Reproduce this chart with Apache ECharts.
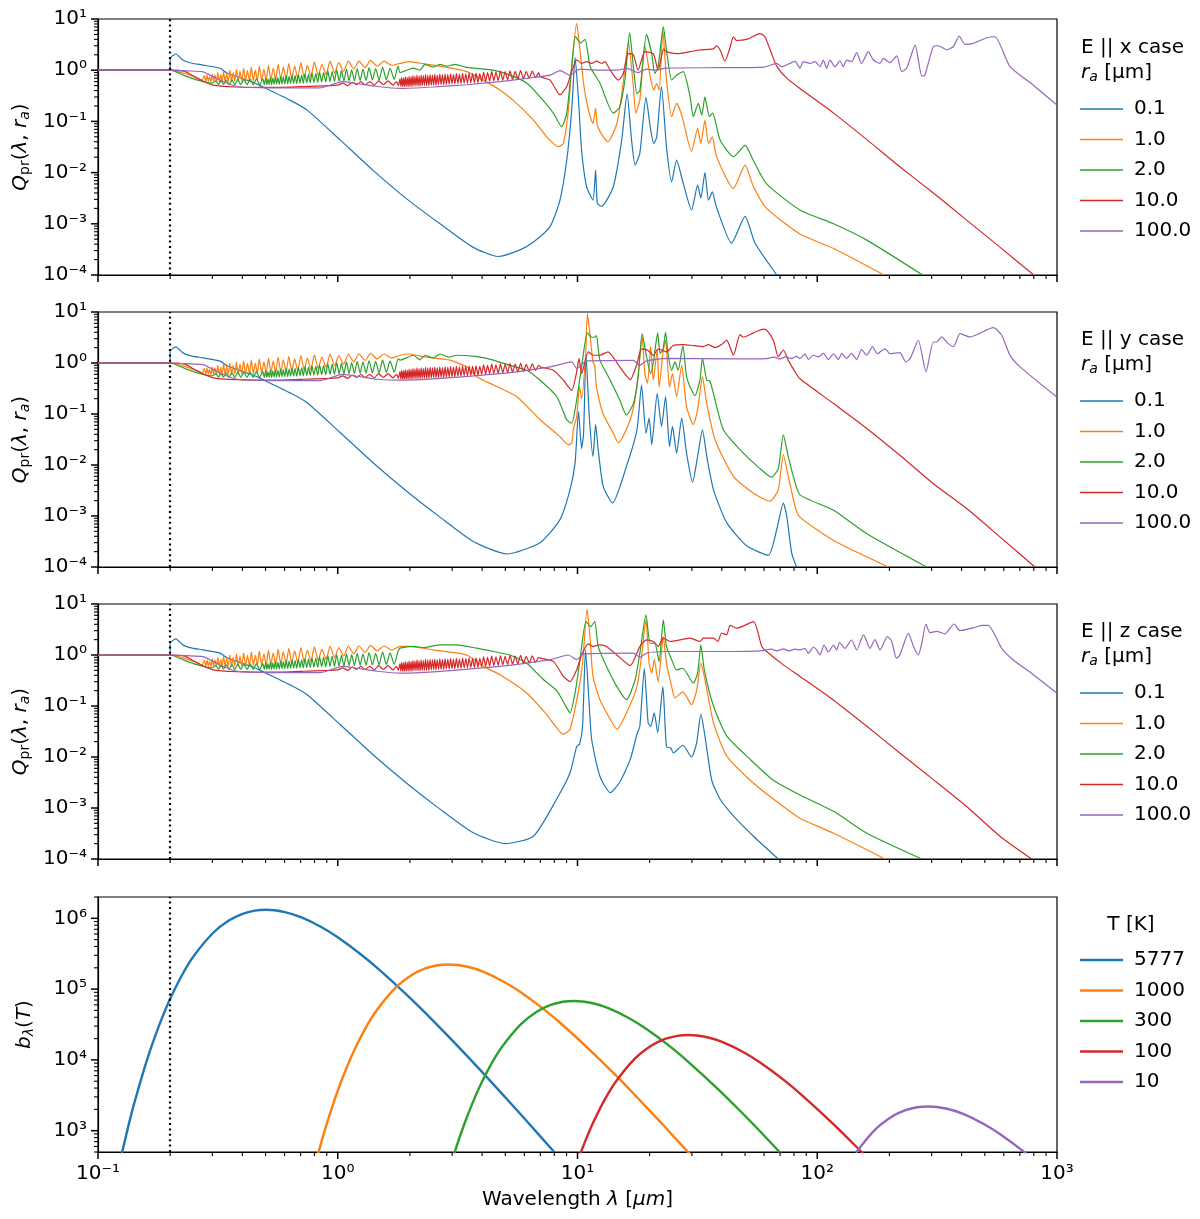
<!DOCTYPE html>
<html><head><meta charset="utf-8">
<script src="https://cdn.jsdelivr.net/npm/echarts@6/dist/echarts.min.js"></script>
<style>html,body{margin:0;padding:0;background:#fff}#c{width:1200px;height:1219px}</style>
</head><body><div id="c"></div>
<script>
const colors = ['#1f77b4','#ff7f0e','#2ca02c','#d62728','#9467bd'];
const sizeNames = ['0.1','1.0','2.0','10.0','100.0'];
const tempNames = ['5777','1000','300','100','10'];
const caseTitles = ['E || x case','E || y case','E || z case'];
const xTickLabels = ['10⁻¹','10⁰','10¹','10²','10³'];      // exponents -1..3
const qTickLabels = ['10⁻⁴','10⁻³','10⁻²','10⁻¹','10⁰','10¹']; // exponents -4..1
const bTickLabels = ['10³','10⁴','10⁵','10⁶'];             // exponents 3..6

// ---- short-wavelength part (shared by the three Qpr panels) ----
const shortBlue = [[0.1,1],[0.2,1],[0.2,1.7],[0.211,2.07],[0.226,1.58],[0.242,1.4],[0.274,1.26],[0.323,1.09],[0.345,0.88],[0.38,0.75],[0.443,0.58],[0.474,0.5],[0.632,0.26],[0.745,0.166],[1.02,0.044],[1.4,0.0112]];
const shortOrange = [[0.1,1],[0.2,1],[0.226,0.88],[0.259,0.71],[0.272,0.64],
[0.278,0.78],[0.2815,0.6],[0.285,0.8],[0.2885,0.6],[0.292,0.76],[0.296,0.59],[0.2995,0.84],[0.3035,0.6],[0.3075,0.8],[0.312,0.59],[0.316,0.9],[0.3205,0.6],[0.325,0.82],[0.3295,0.59],[0.334,0.95],[0.339,0.6],[0.344,0.85],[0.3495,0.6],[0.355,1.0],[0.3605,0.6],[0.366,0.9],[0.372,0.61],[0.378,1.05],[0.3845,0.6],[0.391,0.95],[0.398,0.61],[0.405,1.1],[0.4125,0.61],[0.42,0.98],[0.428,0.62],[0.436,1.15],[0.4445,0.62],[0.453,1.0],[0.462,0.62],[0.471,1.2],[0.4815,0.63],[0.492,1.05],[0.503,0.63],[0.514,1.25],[0.526,0.64],[0.538,1.1],[0.551,0.65],[0.564,1.3],[0.5785,0.66],[0.593,1.15],[0.609,0.67],[0.625,1.35],[0.643,0.68],[0.661,1.2],[0.681,0.7],[0.702,1.4],[0.7245,0.72],[0.747,1.25],[0.773,0.75],[0.799,1.45],[0.829,0.78],[0.859,1.3],[0.894,0.82],[0.929,1.5],[0.97,0.88],[1.01,1.4],[1.058,0.95],[1.107,1.5],[1.166,1.05],[1.225,1.5],[1.3,1.12],[1.37,1.55],[1.46,1.2],[1.56,1.5],[1.68,1.25]];
const shortGreen = [[0.1,1],[0.2,1],[0.235,0.75],[0.274,0.6],[0.3,0.56],[0.31,0.62],[0.318,0.53],[0.326,0.63],[0.334,0.53],[0.343,0.64],[0.352,0.52],[0.362,0.65],[0.372,0.52],[0.383,0.66],[0.394,0.52],[0.406,0.66],[0.418,0.52],[0.431,0.67],[0.444,0.52],[0.458,0.68],[0.472,0.52],[0.487,0.68],[0.494,0.52],
[0.5,0.7],[0.5057,0.52],[0.5115,0.68],[0.5175,0.52],[0.5236,0.72],[0.53,0.52],[0.536,0.7],[0.5425,0.53],[0.549,0.74],[0.556,0.53],[0.563,0.72],[0.5705,0.53],[0.578,0.76],[0.5855,0.54],[0.593,0.74],[0.6015,0.54],[0.61,0.78],[0.6185,0.54],[0.627,0.76],[0.636,0.55],[0.645,0.8],[0.6545,0.55],[0.664,0.78],[0.6745,0.55],[0.685,0.82],[0.696,0.56],[0.707,0.8],[0.7185,0.56],[0.73,0.85],[0.7425,0.57],[0.755,0.83],[0.768,0.57],[0.781,0.88],[0.7955,0.58],[0.81,0.86],[0.825,0.58],[0.84,0.92],[0.8565,0.59],[0.873,0.9],[0.891,0.59],[0.909,0.97],[0.9285,0.6],[0.948,0.94],[0.969,0.6],[0.99,1.02],[1.013,0.61],[1.036,0.98],[1.061,0.61],[1.087,1.05],[1.115,0.62],[1.143,1.02],[1.174,0.62],[1.205,1.08],[1.24,0.63],[1.274,1.05],[1.312,0.63],[1.351,1.12],[1.395,0.64],[1.439,1.08],[1.488,0.64],[1.538,1.15],[1.595,0.65],[1.653,1.1],[1.72,0.66],[1.786,1.2]];
const shortRed = [[0.1,1],[0.2,1],[0.23,0.95],[0.259,0.7],[0.302,0.51],[0.38,0.47],[0.52,0.46],[0.72,0.48],[1.0,0.51],[1.05,0.56],[1.1,0.5],[1.15,0.58],[1.2,0.52],[1.25,0.6],[1.3,0.52],[1.36,0.6],[1.42,0.51],[1.48,0.62],[1.55,0.52],[1.62,0.62],[1.7,0.51],[1.76,0.6],[1.79,0.5]];
const midRed = [[1.818,0.68],[1.833,0.48],[1.849,0.72],[1.865,0.48],[1.881,0.7],[1.897,0.48],[1.914,0.74],[1.931,0.48],[1.949,0.72],[1.966,0.48],[1.984,0.76],[2.002,0.48],[2.021,0.74],[2.04,0.48],[2.059,0.78],[2.079,0.49],[2.099,0.76],[2.12,0.49],[2.14,0.8],[2.161,0.49],[2.183,0.77],[2.205,0.49],[2.228,0.8],[2.251,0.5],[2.275,0.78],[2.299,0.5],[2.323,0.82],[2.348,0.5],[2.374,0.79],[2.4,0.5],[2.427,0.82],[2.455,0.51],[2.483,0.8],[2.512,0.51],[2.541,0.83],[2.571,0.51],[2.601,0.8],[2.633,0.52],[2.665,0.84],[2.698,0.52],[2.732,0.81],[2.767,0.52],[2.803,0.84],[2.84,0.53],[2.877,0.82],[2.916,0.53],[2.955,0.85],[2.996,0.54],[3.038,0.82],[3.081,0.54],[3.125,0.86],[3.171,0.55],[3.217,0.83],[3.266,0.55],[3.316,0.87],[3.368,0.56],[3.42,0.85],[3.475,0.56],[3.531,0.87],[3.59,0.57],[3.65,0.86],[3.713,0.57],[3.776,0.88],[3.844,0.58],[3.912,0.86],[3.985,0.6],[4.058,0.92],[4.137,0.6],[4.216,0.9],[4.301,0.61],[4.386,0.95],[4.478,0.62],[4.57,0.92],[4.67,0.63],[4.771,0.96],[4.88,0.64],[4.99,0.94],[5.11,0.65],[5.23,0.97],[5.36,0.66],[5.495,0.95],[5.64,0.67],[5.787,0.98],[5.95,0.68],[6.112,0.94],[6.29,0.7],[6.477,0.96],[6.68,0.72],[6.887,0.9]];
const shortPurple = [[0.1,1],[0.2,1],[0.235,0.97],[0.274,0.93],[0.302,0.75],[0.332,0.6],[0.38,0.48],[0.52,0.45],[0.84,0.45],[1.05,0.6],[1.2,0.55],[1.46,0.48]];

// ---- E || x ----
const xBlue = [[1.95,3.0e-3],[2.67,1.0e-3],[3.66,3.5e-4],[4.66,2.3e-4],[5.76,3.1e-4],[6.55,4.4e-4],[7.68,8.8e-4],[8.45,2.9e-3],[9.02,0.0176],[9.46,0.167],[9.77,1.78],[10.1,0.26],[10.4,0.0276],[10.9,5.4e-3],[11.6,2.9e-3],[11.9,0.0112],[12.1,2.5e-3],[12.6,2.2e-3],[14.1,5.3e-3],[15.3,0.044],[16.1,0.35],[16.8,0.044],[17.4,0.014],[18.2,0.024],[19.3,0.295],[20.1,0.079],[20.8,0.037],[21.4,0.05],[22.4,0.48],[23.5,0.032],[24.7,6.6e-3],[25.9,0.0176],[27.5,6.6e-3],[29.9,1.85e-3],[31.7,5.7e-3],[32.7,3.2e-3],[34.0,0.01],[35.2,2.9e-3],[36.5,4.2e-3],[38.0,2.1e-3],[43.9,4.2e-4],[50,1.4e-3],[55,4.2e-4],[67.8,1e-4]];
const xOrange = [[1.82,1.36],[2.0,1.47],[2.13,1.4],[2.5,1.26],[3.45,0.94],[4.04,0.64],[4.75,0.41],[5.57,0.225],[6.55,0.106],[7.44,0.05],[8.32,0.032],[8.73,0.037],[9.16,0.167],[9.46,1.17],[9.92,8.2],[10.2,2.9],[10.6,0.55],[11.1,0.167],[11.6,0.091],[11.9,0.18],[12.1,0.085],[12.8,0.05],[13.4,0.04],[14.6,0.091],[15.5,0.55],[16.3,3.6],[17.1,0.48],[17.5,0.145],[18.2,0.26],[19.1,3.0],[20.1,0.75],[20.8,0.41],[21.4,0.55],[21.9,0.41],[22.7,6.0],[23.5,0.64],[24.7,0.124],[25.9,0.225],[27.2,0.133],[29.9,0.026],[31.7,0.073],[32.7,0.037],[34.0,0.106],[35.2,0.037],[36.5,0.05],[38.0,0.0205],[44.7,4.9e-3],[50,0.014],[54.2,5.3e-3],[61.5,2e-3],[84.7,6.3e-4],[117,3.3e-4],[190,1e-4]];
const xGreen = [[1.82,0.9],[2.07,1.1],[2.2,1.0],[2.31,1.3],[2.5,1.15],[2.67,1.3],[2.85,1.2],[3.08,1.3],[3.4,1.15],[3.68,1.1],[4.46,1.0],[5.23,0.8],[6.14,0.56],[6.98,0.3],[7.93,0.145],[8.59,0.079],[9.02,0.145],[9.46,1.17],[9.8,4.6],[10.3,3.4],[10.75,4.0],[11.3,1.17],[12.4,0.56],[14.1,0.145],[15.0,0.19],[15.8,0.7],[16.5,5.4],[17.1,1.17],[17.7,0.35],[18.2,0.4],[19.4,5.0],[20.4,2.1],[21.0,0.86],[21.7,1.17],[22.8,7.1],[23.5,2.5],[24.7,0.64],[25.9,0.8],[27.6,0.94],[29.5,0.3],[30.4,0.124],[31.9,0.225],[33.0,0.133],[34.0,0.3],[35.5,0.124],[36.6,0.145],[39.3,0.044],[44.7,0.0205],[50,0.034],[54.2,0.017],[61.5,6e-3],[84.7,1.86e-3],[117,1.0e-3],[161,4.8e-4],[275,1e-4]];
const xRed = [[6.98,0.75],[7.68,0.64],[8.45,0.33],[9.02,0.48],[9.46,0.94],[9.92,1.58],[10.4,1.36],[10.9,1.47],[11.46,1.36],[12.0,1.5],[12.6,1.36],[13.0,1.47],[13.7,1.0],[14.8,0.64],[15.5,0.84],[16.3,2.1],[17.1,2.0],[17.9,1.0],[19.1,2.3],[20.7,2.1],[21.7,1.0],[22.9,2.6],[23.5,2.3],[25.9,2.1],[29.5,2.3],[32.4,2.5],[36.9,2.6],[38.0,3.0],[39.3,2.5],[41.2,1.5],[43.3,2.8],[44.7,4.5],[46.1,3.8],[50.8,4.0],[57.7,5.2],[60.5,4.5],[64.5,2.1],[67.8,1.19],[74.6,0.7],[84.7,0.44],[117,0.145],[161,0.044],[221,0.013],[305,4e-3],[420,1.18e-3],[578,3.5e-4],[800,1e-4]];
const xPurple = [[1.82,0.44],[2.5,0.47],[3.45,0.52],[4.75,0.6],[6.55,0.72],[7.68,0.8],[8.45,0.98],[9.31,0.8],[10.2,1.05],[12.4,1.0],[14.6,1.0],[16.1,1.09],[17.9,0.9],[19.4,1.05],[21.0,1.0],[23.5,1.1],[40,1.12],[60,1.15],[67.8,1.36],[71,1.17],[77,1.36],[80.8,1.5],[84.7,1.09],[87.5,1.47],[93.3,1.36],[97.9,1.47],[102.7,1.17],[106,1.58],[109.4,1.09],[113,1.58],[118.6,1.17],[124.4,1.53],[128.5,1.17],[132.6,1.58],[139.2,1.47],[146,2.2],[153,1.36],[163.3,2.3],[171.4,1.58],[182.7,1.36],[188.6,1.7],[201,1.4],[214.4,1.9],[225,0.94],[236,1.09],[256,3.1],[273,0.77],[281,0.8],[305,2.9],[320,3.0],[347,2.5],[370,2.9],[391,4.65],[413,3.2],[448,3.35],[509,4.3],[551,4.5],[637,1.17],[797,0.51],[998,0.21]];

// ---- E || y ----
const yBlue = [[1.95,3.0e-3],[2.67,9.5e-4],[3.66,3.2e-4],[5.07,1.8e-4],[6.98,3.0e-4],[8.45,8.5e-4],[9.31,3.3e-3],[9.77,0.011],[10.1,0.111],[10.4,0.021],[10.6,0.042],[10.85,1.42],[11.2,0.089],[11.6,0.0148],[11.9,0.062],[12.2,0.02],[12.8,3.8e-3],[14.0,1.8e-3],[16.0,9.4e-3],[17.7,0.049],[18.5,0.37],[19.3,0.042],[19.9,0.083],[20.4,0.025],[21.5,0.254],[22.4,0.057],[23.3,0.22],[24.2,0.023],[24.9,0.057],[25.9,0.017],[27.2,0.083],[28.5,0.017],[30.2,4.6e-3],[31.7,0.0148],[33.2,0.049],[34.6,0.0148],[36.9,3.3e-3],[41.9,7.4e-4],[50.8,2.6e-4],[62.5,1.7e-4],[67.8,5.5e-4],[72.2,1.8e-3],[74.6,1e-3],[78.2,1.9e-4],[82,1e-4]];
const yOrange = [[1.82,1.42],[2.0,1.5],[2.27,1.33],[2.94,1.14],[3.45,0.84],[3.8,0.54],[4.46,0.37],[5.57,0.22],[6.98,0.077],[8.45,0.036],[9.16,0.025],[9.46,0.027],[9.6,0.049],[9.92,0.089],[10.2,0.34],[10.4,0.2],[10.8,1.33],[11.0,9.3],[11.3,3.25],[11.6,1.05],[11.8,0.9],[12.0,0.34],[12.8,0.1],[14.1,0.042],[14.8,0.027],[16.6,0.077],[17.7,0.34],[18.6,3.25],[19.1,0.62],[19.6,0.4],[20.2,2.1],[20.7,0.46],[21.5,1.8],[21.9,0.34],[22.8,1.8],[23.3,2.8],[24.2,0.34],[24.9,0.62],[25.9,0.22],[27.2,0.9],[28.5,0.14],[30.4,0.062],[31.7,0.12],[33.2,0.54],[34.6,0.16],[37.5,0.031],[44.7,6e-3],[54.2,2.8e-3],[63.5,1.95e-3],[68.8,3.3e-3],[72.2,0.016],[75.7,6e-3],[80.8,1.55e-3],[84.7,9.5e-4],[117,3.3e-4],[198,1e-4]];
const yGreen = [[1.82,1.14],[2.07,1.42],[2.2,1.15],[2.31,1.42],[2.5,1.25],[2.67,1.5],[2.9,1.3],[3.13,1.42],[3.8,1.33],[4.46,1.14],[5.23,0.9],[6.14,0.72],[6.98,0.46],[8.19,0.22],[9.02,0.077],[9.46,0.066],[9.92,0.19],[10.4,0.84],[11.0,3.9],[11.46,3.2],[11.8,3.2],[12.0,3.45],[12.4,1.14],[13.7,0.46],[15.0,0.19],[16.0,0.096],[17.1,0.16],[17.9,0.54],[18.6,3.76],[19.4,1.33],[20.2,0.62],[20.7,1.0],[21.6,3.9],[22.1,1.55],[22.7,1.8],[23.3,4.0],[23.9,1.42],[24.7,0.72],[25.5,1.05],[26.3,0.72],[27.5,2.2],[28.5,0.54],[29.5,0.34],[30.9,0.23],[32.4,0.46],[33.2,1.23],[34.6,0.46],[35.7,0.44],[36.9,0.25],[40.6,0.049],[47.6,0.02],[57.7,8.5e-3],[64.5,5.8e-3],[68.8,8.5e-3],[72.2,0.039],[75.7,0.0148],[79.5,6e-3],[84.7,2.6e-3],[117,1.3e-3],[161,4.5e-4],[286,1e-4]];
const yRed = [[6.98,0.84],[7.93,0.72],[8.73,0.46],[9.46,0.29],[9.92,0.67],[10.15,1.23],[10.4,0.62],[11.1,1.65],[11.6,1.42],[12.4,1.42],[13.4,1.65],[15.0,0.84],[16.6,0.47],[17.7,0.96],[18.5,1.9],[19.7,1.76],[20.7,1.42],[21.7,1.9],[23.5,1.65],[25.1,2.2],[27.6,2.3],[30.4,2.2],[33.5,2.1],[35.2,2.3],[37.5,2.0],[39.9,2.3],[41.9,2.8],[44.7,1.42],[47.6,3.6],[49.2,3.2],[54.2,3.9],[59.6,4.6],[61.5,4.4],[65.6,2.8],[68.8,1.33],[72.2,1.8],[75.7,1.14],[80.8,0.67],[84.7,0.49],[117,0.16],[161,0.052],[221,0.0155],[305,4.3e-3],[420,1.4e-3],[578,3.9e-4],[809,1e-4]];
const yPurple = [[1.82,0.46],[4.75,0.62],[7.68,0.84],[9.46,1.05],[9.92,0.78],[10.9,1.1],[17.1,1.13],[18.2,0.9],[19.4,1.1],[23.5,1.23],[44.7,1.2],[61.5,1.22],[66,1.3],[70,1.2],[74,1.32],[78,1.22],[82,1.35],[84.7,1.22],[88.9,1.52],[91.8,1.17],[96.3,1.42],[101,1.32],[106,1.55],[111.2,1.17],[117,1.52],[122.5,1.17],[126.5,1.55],[132.6,1.22],[139,1.55],[146,1.17],[153,1.83],[161,1.42],[170,2.1],[178,1.52],[192,1.9],[201,1.52],[221,1.6],[234,1.05],[244,1.22],[264,2.79],[284,0.67],[305,2.58],[315,2.58],[330,3.24],[352,2.4],[370,2.1],[394,3.76],[433,3.24],[543,4.93],[588,3.5],[637,1.41],[701,0.84],[998,0.216]];

// ---- E || z ----
const zBlue = [[1.95,3.0e-3],[2.67,9.5e-4],[3.66,3.3e-4],[4.99,2.0e-4],[6.55,2.8e-4],[8.19,1.5e-3],[9.31,4.9e-3],[9.92,0.016],[10.2,0.018],[10.5,0.04],[10.8,1.26],[11.1,0.2],[11.46,0.022],[12.4,4.2e-3],[13.7,2e-3],[15.0,3.2e-3],[16.6,9e-3],[17.7,0.028],[18.2,0.04],[19.0,0.55],[19.7,0.047],[20.2,0.04],[20.9,0.073],[21.6,0.03],[22.7,0.24],[23.5,0.016],[24.5,0.015],[25.1,0.012],[27.5,0.017],[29.9,0.01],[31.4,0.019],[32.7,0.069],[34.0,0.026],[36.3,3.5e-3],[39.3,1.5e-3],[44.7,7e-4],[54.2,2.8e-4],[68.8,1e-4]];
const zOrange = [[1.82,1.47],[2.0,1.47],[2.5,1.26],[3.45,1.0],[4.04,0.6],[4.75,0.41],[6.14,0.18],[7.44,0.068],[8.73,0.028],[9.31,0.035],[10.1,0.2],[10.5,0.69],[10.96,7.9],[11.3,1.98],[11.6,0.38],[12.4,0.133],[13.7,0.055],[14.6,0.035],[16.0,0.073],[17.7,0.24],[18.5,0.94],[19.3,4.9],[19.9,0.69],[20.4,0.44],[20.9,0.81],[21.7,0.3],[22.8,2.3],[23.5,0.69],[24.7,0.24],[25.5,0.144],[27.5,0.19],[29.9,0.106],[31.4,0.2],[32.7,0.69],[34.0,0.33],[36.9,0.047],[41.9,0.0105],[52.5,3.5e-3],[65.6,1.5e-3],[84.7,6.3e-4],[117,3.2e-4],[192,1e-4]];
const zGreen = [[1.82,1.36],[2.07,1.47],[2.3,1.4],[2.67,1.58],[3.13,1.58],[3.8,1.36],[4.46,1.17],[5.23,1.0],[6.14,0.69],[7.2,0.33],[8.19,0.2],[9.02,0.092],[9.31,0.073],[9.77,0.18],[10.2,0.69],[10.85,4.5],[11.35,3.6],[11.8,4.5],[12.2,1.47],[13.2,0.6],[14.6,0.24],[16.0,0.133],[17.4,0.33],[18.2,1.09],[19.3,6.1],[20.1,1.7],[21.0,1.7],[21.9,0.75],[22.8,4.9],[23.5,1.47],[24.7,0.81],[25.9,0.51],[27.5,0.55],[30.4,0.28],[31.7,0.44],[32.7,1.58],[33.8,0.51],[36.9,0.1],[41.9,0.026],[52.5,9e-3],[65.6,3.5e-3],[84.7,1.8e-3],[117,8.6e-4],[161,3.2e-4],[273,1e-4]];
const zRed = [[6.98,0.87],[7.93,0.75],[8.73,0.38],[9.31,0.3],[9.92,0.51],[10.4,1.0],[11.1,1.65],[11.6,1.47],[12.4,1.58],[13.2,1.47],[14.6,1.0],[16.6,0.62],[18.2,1.47],[19.4,1.98],[20.7,1.84],[21.7,1.47],[22.8,2.14],[24.3,1.84],[29.5,2.14],[32.4,1.84],[33.5,2.14],[36.9,2.14],[38.5,1.84],[39.9,2.7],[41.9,2.5],[43.3,3.8],[46.1,3.35],[54.2,4.5],[58.7,1.47],[61.5,1.17],[72.2,0.64],[84.7,0.38],[117,0.13],[161,0.04],[221,0.012],[305,3.6e-3],[420,1.07e-3],[578,2.8e-4],[784,1e-4]];
const zPurple = [[1.82,0.44],[4.75,0.6],[7.68,0.81],[9.16,1.0],[9.92,0.81],[10.6,1.05],[17.1,1.09],[18.2,0.9],[19.4,1.09],[23.5,1.17],[44.7,1.17],[57.7,1.2],[64.5,1.3],[68,1.2],[72.2,1.32],[76,1.2],[80.8,1.3],[84.7,1.26],[88.9,1.35],[91.8,1.08],[96.3,1.42],[99.4,1.26],[102.7,1.0],[106.7,1.57],[111.2,1.15],[117,1.57],[120.4,1.26],[124,1.75],[130.5,1.35],[139,1.97],[146,1.26],[156,2.47],[166,1.35],[174,2.0],[182.7,1.26],[196,2.29],[204,1.9],[214,0.86],[221,1.0],[240,2.66],[252,1.47],[264,1.0],[273,1.7],[284,4.05],[295,2.74],[315,2.9],[341,2.6],[372,4.05],[394,3.0],[448,3.4],[485,3.8],[517,3.8],[588,1.35],[657,0.8],[797,0.41],[998,0.18]];

// ---- Planck b_lambda(T) ----
const planck5777 = [[0.1254,458],[0.1379,1742],[0.1505,5016],[0.163,1.206e4],[0.1756,2.474e4],[0.1881,4.5e4],[0.2006,7.48e4],[0.2257,1.647e5],[0.2508,2.93e5],[0.301,6.15e5],[0.351,9.29e5],[0.401,1.159e6],[0.451,1.284e6],[0.5016,1.32e6],[0.602,1.225e6],[0.702,1.036e6],[0.853,7.54e5],[1.003,5.35e5],[1.254,3.06e5],[1.505,1.826e5],[2.006,7.46e4],[2.508,3.54e4],[3.01,1.876e4],[4.013,6.67e3],[5.016,2.92e3],[6.02,1.473e3],[8.03,492]];
const planck1000 = [[0.797,294],[0.869,847],[0.942,2038],[1.014,4179],[1.087,7604],[1.159,1.264e4],[1.304,2.783e4],[1.449,4.95e4],[1.739,1.039e5],[2.029,1.57e5],[2.318,1.958e5],[2.608,2.17e5],[2.898,2.23e5],[3.478,2.069e5],[4.057,1.751e5],[4.927,1.273e5],[5.796,9.03e4],[7.245,5.17e4],[8.694,3.084e4],[11.59,1.26e4],[14.49,5.98e3],[17.39,3.17e3],[23.18,1.126e3],[28.98,493.5],[34.78,249]];
const planck300 = [[2.898,258],[3.14,622],[3.381,1274],[3.623,2319],[3.864,3856],[4.347,8486],[4.83,1.51e4],[5.796,3.17e4],[6.762,4.79e4],[7.728,5.97e4],[8.694,6.62e4],[9.66,6.8e4],[11.59,6.31e4],[13.52,5.34e4],[16.42,3.88e4],[19.32,2.754e4],[24.15,1.576e4],[28.98,9.4e3],[38.64,3.84e3],[48.3,1.822e3],[57.96,966],[77.28,343]];
const planck100 = [[10.14,421.7],[10.87,767],[11.59,1276],[13.04,2808],[14.49,4995],[17.39,1.049e4],[20.29,1.584e4],[23.18,1.976e4],[26.08,2.189e4],[28.98,2.25e4],[34.78,2.088e4],[40.57,1.766e4],[49.27,1.285e4],[57.96,9.11e3],[72.45,5.22e3],[86.94,3.11e3],[115.9,1.271e3],[144.9,603],[173.9,320]];
const planck10 = [[144.9,488],[173.9,1025],[202.9,1549],[231.8,1932],[260.8,2141],[289.8,2200],[347.8,2042],[405.7,1727],[492.7,1256],[579.6,891],[724.5,510],[869.4,304]];

// ---------------- build ----------------
const FONT = 'DejaVu Sans';
const shortArr = [shortBlue, shortOrange, shortGreen, shortRed, shortPurple];
const panels = [
  [xBlue, xOrange, xGreen, xRed, xPurple],
  [yBlue, yOrange, yGreen, yRed, yPurple],
  [zBlue, zOrange, zGreen, zRed, zPurple]
];
const planckArr = [planck5777, planck1000, planck300, planck100, planck10];
const gridBoxes = [[19,256],[312,255],[604,255],[897,255]];
const LEFT = 98, WIDTH = 959;

function fmt(labels, base){
  return function(v){
    const e = Math.log10(v), r = Math.round(e);
    if (Math.abs(e - r) > 1e-6) return '';
    const s = labels[r - base];
    return s === undefined ? '' : s;
  };
}
const rich = {
  i:{fontStyle:'italic', fontSize:20, fontFamily:FONT, color:'#000'},
  n:{fontSize:20, fontFamily:FONT, color:'#000'},
  s:{fontSize:14, fontFamily:FONT, color:'#000', padding:[9,0,0,0]},
  si:{fontSize:14, fontStyle:'italic', fontFamily:FONT, color:'#000', padding:[9,0,0,0]}
};
const dotted = {silent:true, symbol:['none','none'], label:{show:false}, emphasis:{disabled:true},
  lineStyle:{color:'#000', type:[2,3.4], width:2.2}, data:[{xAxis:0.2}]};

const series = [];
for (let p = 0; p < 3; p++) {
  for (let i = 0; i < 5; i++) {
    const data = i === 3 ? shortArr[i].concat(midRed, panels[p][i]) : shortArr[i].concat(panels[p][i]);
    const s = {type:'line', name:sizeNames[i], xAxisIndex:p, yAxisIndex:p, data:data, showSymbol:false, symbol:'none',
      smooth:0.2,
      lineStyle:{color:colors[i], width:1.2}, itemStyle:{color:colors[i]}, emphasis:{disabled:true}, animation:false};
    if (i === 0) s.markLine = dotted;
    series.push(s);
  }
}
for (let i = 0; i < 5; i++) {
  const s = {type:'line', name:tempNames[i], xAxisIndex:3, yAxisIndex:3, data:planckArr[i], showSymbol:false, symbol:'none',
    smooth:0.3,
    lineStyle:{color:colors[i], width:2.4}, itemStyle:{color:colors[i]}, emphasis:{disabled:true}, animation:false};
  if (i === 0) s.markLine = dotted;
  series.push(s);
}

const legendTops = [94, 386, 678, 945];
const legends = legendTops.map((t, p) => ({
  data: p < 3 ? sizeNames : tempNames, orient:'vertical', left:1075, top:t, icon:'rect',
  itemWidth:43, itemHeight: p < 3 ? 1.3 : 2.5, itemGap:10.5, selectedMode:false,
  textStyle:{fontSize:20, color:'#000', fontFamily:FONT, padding:[0,0,0,6]}
}));

const option = {
  animation:false, backgroundColor:'#fff',
  textStyle:{fontFamily:FONT},
  grid: gridBoxes.map(g => ({left:LEFT, top:g[0], width:WIDTH, height:g[1], show:true, borderColor:'#000', borderWidth:1.2, backgroundColor:'transparent', containLabel:false})),
  xAxis: gridBoxes.map((g, p) => ({
    type:'log', logBase:10, gridIndex:p, min:0.1, max:1000,
    axisLine:{show:true, lineStyle:{color:'#000', width:1.2}}, axisTick:{show:false}, splitLine:{show:false}, minorTick:{show:false},
    axisLabel:{show:p === 3, formatter:fmt(xTickLabels, -1), fontSize:20, color:'#000', fontFamily:FONT, margin:12, showMinLabel:true, showMaxLabel:true},
    name: p === 3 ? 'Wavelength {i|λ} [{i|μm}]' : '', nameLocation:'middle', nameGap:38,
    nameTextStyle:{fontSize:20, color:'#000', fontFamily:FONT, rich:rich}
  })),
  yAxis: gridBoxes.map((g, p) => ({
    type:'log', logBase:10, gridIndex:p, min: p < 3 ? 1e-4 : 500, max: p < 3 ? 10 : 2e6,
    axisLine:{show:true, lineStyle:{color:'#000', width:1.2}}, axisTick:{show:false}, splitLine:{show:false},
    axisLabel:{formatter: p < 3 ? fmt(qTickLabels, -4) : fmt(bTickLabels, 3), fontSize:20, color:'#000', fontFamily:FONT, margin:11},
    name: p < 3 ? '{i|Q}{s|pr}{n|(}{i|λ}{n|, }{i|r}{si|a}{n|)}' : '{i|b}{si|λ}{n|(}{i|T}{n|)}',
    nameLocation:'middle', nameRotate:90, nameGap:62,
    nameTextStyle:{fontSize:20, color:'#000', fontFamily:FONT, rich:rich}
  })),
  legend: legends,
  series: series
};

const chart = echarts.init(document.getElementById('c'), null, {renderer:'canvas'});
chart.setOption(option);

// ticks (major + minor, matplotlib style) and legend titles
const gfx = [];
function tick(x1, y1, x2, y2, w){ gfx.push({type:'line', silent:true, z:10, shape:{x1:x1, y1:y1, x2:x2, y2:y2}, style:{stroke:'#000', lineWidth:w}}); }
for (let p = 0; p < 4; p++) {
  const top = gridBoxes[p][0], bottom = top + gridBoxes[p][1];
  for (let e = -1; e <= 3; e++) {
    for (let m = 1; m <= 9; m++) {
      const v = m * Math.pow(10, e);
      if (v > 1000.0001) break;
      const x = chart.convertToPixel({xAxisIndex:p}, v);
      const major = m === 1;
      tick(x, bottom, x, bottom + (major ? 7 : 4), major ? 1.5 : 1.1);
    }
  }
  const ymin = p < 3 ? 1e-4 : 500, ymax = p < 3 ? 10 : 2e6;
  for (let e = -4; e <= 6; e++) {
    for (let m = 1; m <= 9; m++) {
      const v = m * Math.pow(10, e);
      if (v < ymin * 0.9999 || v > ymax * 1.0001) continue;
      const y = chart.convertToPixel({yAxisIndex:p}, v);
      const major = m === 1;
      tick(LEFT, y, LEFT - (major ? 7 : 4), y, major ? 1.5 : 1.1);
    }
  }
}
const titleY = [[48,73],[340,365],[632,657]];
for (let p = 0; p < 3; p++) {
  gfx.push({type:'text', silent:true, x:1081, y:titleY[p][0], style:{text:caseTitles[p], fontSize:20, fontFamily:FONT, fill:'#000', align:'left', verticalAlign:'middle'}});
  gfx.push({type:'text', silent:true, x:1081, y:titleY[p][1], style:{text:'{i|r}{si|a}{n| [μm]}', fontSize:20, fontFamily:FONT, fill:'#000', align:'left', verticalAlign:'middle',
    rich:{i:{fontStyle:'italic', fontSize:20, fontFamily:FONT, fill:'#000'}, n:{fontSize:20, fontFamily:FONT, fill:'#000'}, si:{fontStyle:'italic', fontSize:14, fontFamily:FONT, fill:'#000', padding:[9,0,0,0]}}}});
}
gfx.push({type:'text', silent:true, x:1131, y:925, style:{text:'T [K]', fontSize:20, fontFamily:FONT, fill:'#000', align:'center', verticalAlign:'middle'}});
chart.setOption({graphic: gfx});
</script>
</body></html>
